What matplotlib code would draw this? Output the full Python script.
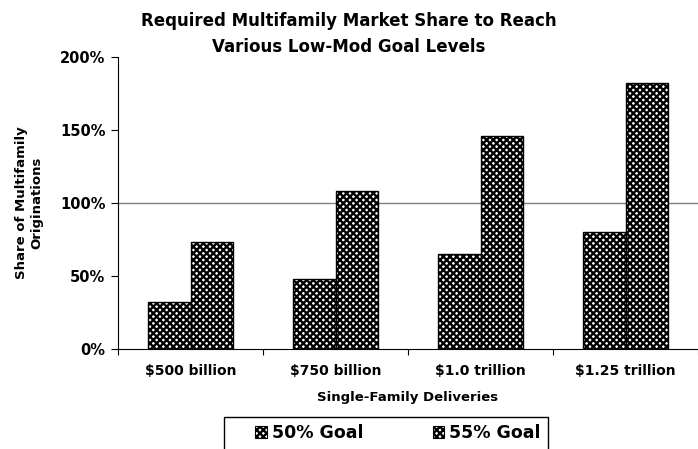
import matplotlib
matplotlib.use("Agg")
import matplotlib.pyplot as plt
import numpy as np
from matplotlib.patches import Rectangle, Patch

categories = ["$500 billion", "$750 billion", "$1.0 trillion", "$1.25 trillion"]
goal50 = [32, 48, 65, 80]
goal55 = [73, 108, 146, 182]
series_names = ["50% Goal", "55% Goal"]
yticks = [0, 50, 100, 150, 200]

plt.rcParams['font.family'] = ['DejaVu Sans']
plt.rcParams['font.weight'] = 'bold'
plt.rcParams['hatch.linewidth'] = 1.7

fig = plt.figure(figsize=(6.98, 4.49), dpi=100)
ax = fig.add_axes([118/698, 1-349/449, 1-118/698, (349-57)/449])

x = np.arange(len(categories))
w = 0.29
for vals, off in [(goal50, -w/2), (goal55, w/2)]:
    ax.bar(x + off, vals, w, facecolor='white', edgecolor='black', hatch='xxxxx',
           linewidth=0, zorder=2)
    ax.bar(x + off, vals, w, facecolor='none', edgecolor='black', linewidth=1.0, zorder=3)

ax.axhline(100, color='#808080', linewidth=1.0, zorder=1)
ax.set_xlim(-0.5, len(categories) - 0.5)
ax.set_ylim(0, 200)
ax.set_yticks(yticks)
ax.set_yticklabels([f"{v}%" for v in yticks], fontsize=10.5, fontweight='bold')
ax.set_xticks(np.arange(len(categories) + 1) - 0.5)
ax.set_xticklabels([])
ax.set_xticks(x, minor=True)
ax.set_xticklabels(categories, minor=True, fontsize=10, fontweight='bold')
ax.tick_params(axis='x', which='minor', length=0, pad=11)
ax.tick_params(axis='x', which='major', length=4, direction='out')
ax.tick_params(axis='y', length=5, direction='out', pad=4)
ax.spines['top'].set_visible(False)
ax.spines['right'].set_visible(False)
ax.set_xlabel("Single-Family Deliveries", fontsize=9.5, fontweight='bold', labelpad=9)
ax.set_ylabel("Share of Multifamily\nOriginations", fontsize=9.5, fontweight='bold', labelpad=12)

fig.text(0.5, 1-34/449, "Required Multifamily Market Share to Reach\nVarious Low-Mod Goal Levels",
         ha='center', va='center', fontsize=12, fontweight='bold', linespacing=1.5)

# Legend box
fig.patches.append(Rectangle((224/698, -0.05), (548-224)/698, 0.05 + (449-417)/449,
                             transform=fig.transFigure, facecolor='white', edgecolor='black',
                             linewidth=1.0, clip_on=False))
handles = [Patch(facecolor='white', edgecolor='black', hatch='xxxxx', linewidth=0.8) for _ in series_names]
fig.legend(handles, series_names, loc='center', bbox_to_anchor=(398/698, 1-433/449),
           ncol=2, frameon=False, prop={'weight': 'bold', 'size': 12.5},
           handlelength=0.65, handleheight=0.75, handletextpad=0.3, columnspacing=4.0)

fig.savefig("out.png", dpi=100)
